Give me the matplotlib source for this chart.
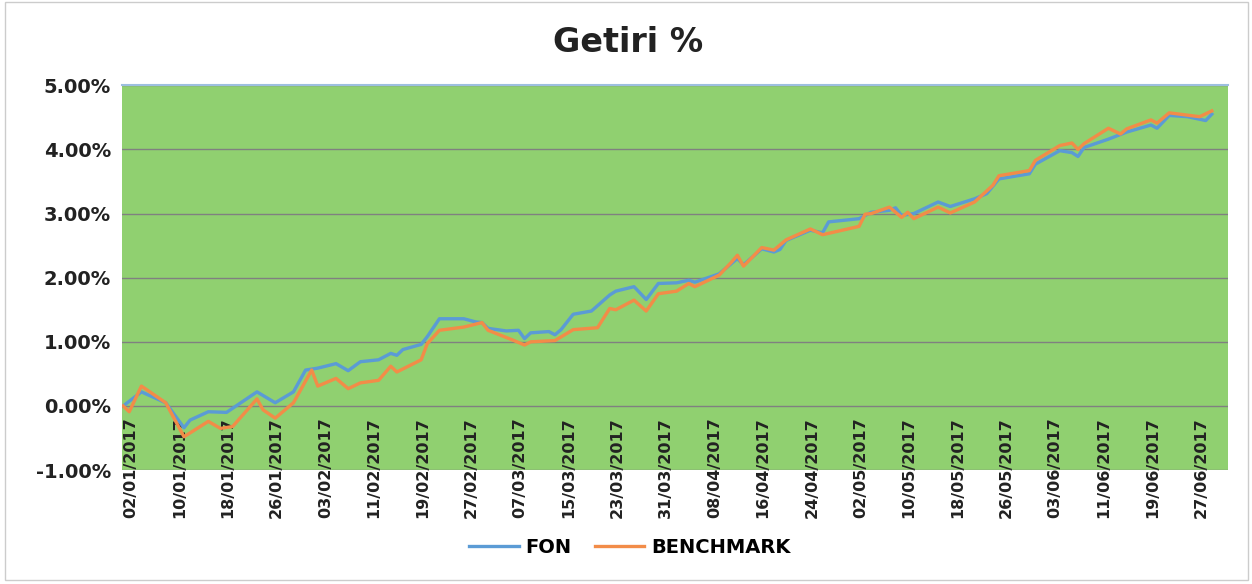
import datetime as dt
import matplotlib
matplotlib.use('Agg')
import matplotlib.pyplot as plt
import matplotlib.dates as mdates
from matplotlib.patches import Rectangle
from matplotlib.ticker import FuncFormatter

# FON (fund) return in %
fon_dates = ['02/01', '05/01', '09/01', '12/01', '13/01', '16/01', '19/01', '24/01', '27/01',
             '30/01', '01/02', '03/02', '06/02', '08/02', '10/02', '13/02', '15/02', '16/02',
             '17/02', '20/02', '21/02', '23/02', '27/02', '01/03', '02/03', '03/03', '06/03',
             '08/03', '09/03', '10/03', '13/03', '14/03', '15/03', '17/03', '20/03', '23/03',
             '24/03', '27/03', '29/03', '31/03', '03/04', '05/04', '06/04', '10/04', '12/04',
             '13/04', '14/04', '17/04', '19/04', '20/04', '21/04', '25/04', '27/04', '28/04',
             '01/05', '03/05', '05/05', '08/05', '09/05', '10/05', '12/05', '16/05', '18/05',
             '22/05', '24/05', '26/05', '31/05', '01/06', '05/06', '07/06', '08/06', '09/06',
             '13/06', '16/06', '20/06', '21/06', '23/06', '26/06', '29/06', '30/06']
fon_vals = [0.00, 0.22, 0.05, -0.34, -0.22, -0.09, -0.10, 0.22, 0.05,
            0.22, 0.56, 0.59, 0.66, 0.55, 0.69, 0.72, 0.82, 0.79,
            0.88, 0.96, 1.08, 1.36, 1.36, 1.31, 1.30, 1.21, 1.17,
            1.18, 1.05, 1.14, 1.16, 1.11, 1.19, 1.43, 1.48, 1.73,
            1.79, 1.86, 1.66, 1.91, 1.92, 1.96, 1.93, 2.06, 2.22,
            2.30, 2.20, 2.45, 2.40, 2.44, 2.58, 2.74, 2.70, 2.87,
            2.90, 2.92, 3.02, 3.05, 3.09, 2.97, 3.00, 3.18, 3.11,
            3.23, 3.31, 3.54, 3.62, 3.77, 3.98, 3.95, 3.89, 4.03,
            4.16, 4.27, 4.38, 4.33, 4.53, 4.51, 4.45, 4.55]

# BENCHMARK return in %
bm_dates = ['02/01', '03/01', '05/01', '09/01', '12/01', '16/01', '18/01', '20/01', '24/01',
            '25/01', '27/01', '30/01', '02/02', '03/02', '06/02', '08/02', '10/02', '13/02',
            '15/02', '16/02', '20/02', '21/02', '23/02', '27/02', '02/03', '03/03', '07/03',
            '09/03', '10/03', '14/03', '17/03', '21/03', '23/03', '24/03', '27/03', '29/03',
            '31/03', '03/04', '05/04', '06/04', '10/04', '12/04', '13/04', '14/04', '17/04',
            '19/04', '21/04', '25/04', '27/04', '03/05', '04/05', '05/05', '08/05', '10/05',
            '11/05', '12/05', '16/05', '18/05', '22/05', '25/05', '26/05', '31/05', '01/06',
            '05/06', '07/06', '08/06', '09/06', '13/06', '15/06', '16/06', '20/06', '21/06',
            '23/06', '28/06', '30/06']
bm_vals = [0.00, -0.09, 0.31, 0.05, -0.48, -0.24, -0.35, -0.32, 0.11,
           -0.06, -0.19, 0.05, 0.56, 0.31, 0.43, 0.27, 0.36, 0.40,
           0.62, 0.53, 0.72, 0.97, 1.18, 1.23, 1.30, 1.18, 1.03,
           0.95, 1.00, 1.02, 1.19, 1.22, 1.52, 1.50, 1.65, 1.48,
           1.75, 1.79, 1.91, 1.86, 2.04, 2.24, 2.35, 2.18, 2.47,
           2.43, 2.59, 2.76, 2.67, 2.80, 2.99, 3.00, 3.10, 2.94,
           3.02, 2.92, 3.10, 3.01, 3.18, 3.44, 3.59, 3.67, 3.83,
           4.06, 4.10, 4.00, 4.09, 4.33, 4.24, 4.32, 4.46, 4.41,
           4.57, 4.51, 4.60]


def to_date(s):
    return dt.datetime.strptime(s + '/2017', '%d/%m/%Y')


fon_x = [to_date(d) for d in fon_dates]
bm_x = [to_date(d) for d in bm_dates]

plt.rcParams['font.family'] = ['DejaVu Sans']

fig = plt.figure(figsize=(12.52, 5.84), dpi=100)
ax = fig.add_axes([0.0974, 0.195, 0.8836, 0.659])
ax.set_facecolor('#90d070')

ax.plot(fon_x, fon_vals, color='#5b9bd5', lw=2.4, label='FON')
ax.plot(bm_x, bm_vals, color='#f28c48', lw=2.4, label='BENCHMARK')

start = to_date('02/01')
ax.set_xlim(start - dt.timedelta(days=0.2), start + dt.timedelta(days=181.7))
ax.set_ylim(-1, 5)
ax.set_yticks(range(-1, 6))
ax.yaxis.set_major_formatter(FuncFormatter(lambda v, p: '%.2f%%' % v))
ax.set_xticks([start + dt.timedelta(days=8 * i) for i in range(23)])
ax.xaxis.set_major_formatter(mdates.DateFormatter('%d/%m/%Y'))
# category axis crosses at 0, labels hang below that line
ax.spines['bottom'].set_position(('data', 0))
ax.spines['bottom'].set_visible(False)
plt.setp(ax.get_xticklabels(), rotation=90, ha='left', fontsize=11.5, fontweight='bold',
         color='#222222')
plt.setp(ax.get_yticklabels(), fontsize=14, fontweight='bold', color='#222222')
ax.tick_params(axis='x', length=0, pad=8)
ax.tick_params(axis='y', length=0, pad=8)
ax.grid(axis='y', color='#808080', lw=1)
ax.set_axisbelow(True)
for side in ['left', 'right']:
    ax.spines[side].set_visible(False)
ax.spines['top'].set_color('#9dbfe0')
ax.spines['top'].set_linewidth(1.5)

fig.text(0.502, 0.927, 'Getiri %', ha='center', va='center', fontsize=24, fontweight='bold',
         color='#222222')
fig.legend(loc='center', bbox_to_anchor=(0.503, 0.062), ncol=2, frameon=False,
           prop={'size': 14, 'weight': 'bold'}, handlelength=2.55, columnspacing=1.2,
           handletextpad=0.35)

fig.patches.append(Rectangle((0.004, 0.006), 0.993, 0.99, transform=fig.transFigure,
                             fill=False, edgecolor='#cccccc', lw=1))

fig.savefig('out.png', dpi=100)
